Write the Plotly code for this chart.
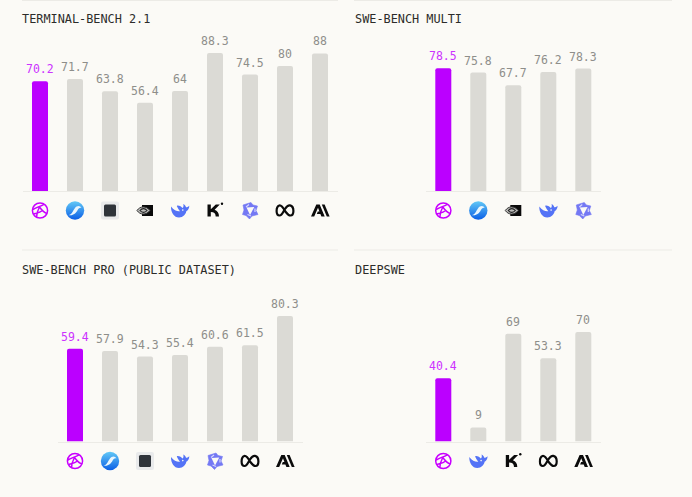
import base64
import plotly.graph_objects as go

W = 692
H = 497

# Chart data, one small list pair per panel
terminal_models = ["globe", "swirl", "square", "nvidia", "whale", "kimi", "star", "meta", "anthropic"]
terminal_values = [70.2, 71.7, 63.8, 56.4, 64, 88.3, 74.5, 80, 88]

multi_models = ["globe", "swirl", "nvidia", "whale", "star"]
multi_values = [78.5, 75.8, 67.7, 76.2, 78.3]

pro_models = ["globe", "swirl", "square", "whale", "star", "meta", "anthropic"]
pro_values = [59.4, 57.9, 54.3, 55.4, 60.6, 61.5, 80.3]

deepswe_models = ["globe", "whale", "kimi", "meta", "anthropic"]
deepswe_values = [40.4, 9, 69, 53.3, 70]

BG = "#fbfaf6"
BAR = "#dbdad5"
ACCENT = "#bb00ff"
ACCENT_LABEL = "#cc33ff"
LABEL = "#8e8e8a"
RULE = "#ecebe6"
FONT = "DejaVu Sans Mono"

# Logos as tiny inline svgs (20x20 box)
ICONS = {
    "globe": '<g fill="none" stroke="#c800ff" stroke-width="1.5"><circle cx="10" cy="10" r="7.6"/>'
             '<path d="M2.8 9 C6 7 10 6 14 3.8 M9.5 6.5 C7.5 10 6.5 13.5 6.5 17 M9.5 6.5 C12 10 14.5 12.5 17 13 M3.5 13.5 C7 12.5 10 12 12.5 10"/></g>',
    "swirl": '<defs><linearGradient id="g" x1="0" y1="0" x2="0" y2="1"><stop offset="0" stop-color="#62c8f6"/>'
             '<stop offset="1" stop-color="#0b5fe6"/></linearGradient></defs><circle cx="10" cy="10" r="9.2" fill="url(#g)"/>'
             '<path d="M3.5 14.5 C7.5 14.5 8 8.5 11.5 6 C13.5 4.8 15.5 5.5 16.5 7.5 C14.5 6.8 13.5 8 12.5 9.8 C11 12.8 7.5 15.8 3.5 14.5 Z" fill="#e9f6fe"/>',
    "square": '<rect x="1" y="1" width="18" height="18" rx="2" fill="#e9eaeb"/>'
              '<rect x="4" y="4" width="12" height="12" rx="1.5" fill="#2f343a"/>',
    "nvidia": '<rect x="7" y="4.5" width="11" height="11" fill="#0a0a0a"/>'
              '<path d="M2 10 C5 5.5 11 5 15 10 C11 15 5 14.5 2 10 Z" fill="#bdbdbb" stroke="#333" stroke-width="1"/>'
              '<path d="M5 10 C7 7.5 10 7.5 12 10 C10 12.5 7 12.5 5 10 Z" fill="none" stroke="#222" stroke-width="1.2"/>',
    "whale": '<path d="M1 6 C0.8 12 4 17 9 17 C13 17 15.8 14 16.3 10.8 C17.8 10 19.3 8 19.3 5.3 C18 6.3 17 6.8 16 6.8 '
             'C15.5 5.2 14.5 4.2 13.3 3.6 C13.8 5.8 13.4 7 12.5 7.5 C10 5 7.8 4.6 6.8 5.4 C7.2 6.2 8 8.2 10 10.8 C7.2 11.2 4 10 1 6 Z" fill="#5473f6"/>'
             '<circle cx="12.8" cy="9.6" r="0.8" fill="#fbfaf6"/>',
    "kimi": '<path d="M2.5 4 H5.8 V8.8 L10.8 4 H14.8 L9.6 9.2 C12.4 10.2 14 12.4 14 16 H10.7 C10.7 13 9 11.6 5.8 11.6 V16 H2.5 Z" fill="#0b0b0b"/>'
            '<circle cx="17" cy="3.2" r="1.2" fill="#0b0b0b"/>',
    "star": '<path d="M3 4.5 L11 2 L13 4.5 L17.5 5.5 L16 10 L18 14 L12 15.5 L9.5 18.5 L6 15 L2.5 14 L4 9.5 Z" '
            'fill="#7478f4" stroke="#7478f4" stroke-width="0.6" stroke-linejoin="round"/>'
            '<path d="M6.5 7 L14.3 6.6 L10 14.5 Z" fill="#fbfaf6"/>'
            '<path d="M9 4 L6 6.5 M15 8 L15 11.5 M7.5 14 L11 15.5" stroke="#d4d6fc" stroke-width="1.2"/>',
    "meta": '<path d="M10 10.5 C7.5 6 5.8 4.6 4.3 5 C2.4 5.6 1.6 8.3 1.6 10.5 C1.6 13.4 2.8 15 4.6 15 C7 15 8 11.5 10 8.5 '
            'C12 5.5 13.6 4.6 15 4.9 C17.4 5.4 18.4 8.2 18.4 10.5 C18.4 13.4 17.2 15 15.4 15 C13 15 12 13 10 10.5 Z" '
            'fill="none" stroke="#0b0b0b" stroke-width="2.2"/>',
    "anthropic": '<path d="M1 16 L6.3 4 H9.7 L14.7 16 H11.4 L10.4 13.5 H6.8 L7.8 11 H9.4 L8 7.2 L4.2 16 Z" fill="#0b0b0b"/>'
                 '<path d="M11.8 4 H14.6 L19.6 16 H16.8 Z" fill="#0b0b0b"/>',
}


def icon_uri(name):
    svg = f'<svg xmlns="http://www.w3.org/2000/svg" width="20" height="20" viewBox="0 0 20 20">{ICONS[name]}</svg>'
    return "data:image/svg+xml;base64," + base64.b64encode(svg.encode()).decode()


# title, models, values, left edge of the bars, baseline y, title x
panels = [
    ("TERMINAL-BENCH 2.1", terminal_models, terminal_values, 22.5, 191, 20),
    ("SWE-BENCH MULTI", multi_models, multi_values, 425.8, 191, 353),
    ("SWE-BENCH PRO (PUBLIC DATASET)", pro_models, pro_values, 57.5, 441.5, 20),
    ("DEEPSWE", deepswe_models, deepswe_values, 425.8, 441.5, 353),
]

STEP = 35
PLOT_H = 161
Y_MAX = 103

fig = go.Figure()
images = []
annotations = []

for i, (title, models, values, left, base, title_x) in enumerate(panels):
    n = i + 1
    suffix = "" if i == 0 else str(n)
    width = len(models) * STEP
    fig.add_trace(go.Bar(
        x=list(range(len(models))),
        y=values,
        width=16 / STEP,
        xaxis=f"x{suffix}",
        yaxis=f"y{suffix}",
        marker=dict(color=[ACCENT] + [BAR] * (len(models) - 1), line_width=0),
        hoverinfo="skip",
    ))
    fig.update_layout({
        f"xaxis{suffix}": dict(
            domain=[left / W, (left + width) / W],
            range=[-0.5, len(models) - 0.5],
            showgrid=False, zeroline=False, showticklabels=False, ticks="",
            showline=True, linecolor=RULE, linewidth=1, anchor=f"y{suffix}",
        ),
        f"yaxis{suffix}": dict(
            domain=[1 - base / H, 1 - (base - PLOT_H) / H],
            range=[0, Y_MAX],
            visible=False, anchor=f"x{suffix}",
        ),
    })
    for k, model in enumerate(models):
        images.append(dict(
            source=icon_uri(model),
            xref=f"x{suffix}", yref="paper",
            x=k, y=1 - (base + 19.5) / H,
            sizex=20 / STEP, sizey=20 / H,
            xanchor="center", yanchor="middle",
            sizing="contain", layer="above",
        ))
        # value labels sit a bit higher than plotly's own outside text
        annotations.append(dict(
            text=str(values[k]), xref=f"x{suffix}", yref=f"y{suffix}",
            x=k, y=values[k], yanchor="bottom", yshift=3, showarrow=False,
            font=dict(family=FONT, size=11.5, color=ACCENT_LABEL if k == 0 else LABEL),
        ))
    annotations.append(dict(
        text=title, xref="paper", yref="paper",
        x=title_x / W, y=1 - (base - 172) / H,
        xanchor="left", yanchor="middle", showarrow=False,
        font=dict(family=FONT, size=11.85, color="#2c2c2a"),
    ))

rules = []
for y0 in (0.5, 250):
    for x0, x1 in ((22, 338), (354, 672)):
        rules.append(dict(
            type="line", xref="paper", yref="paper",
            x0=x0 / W, x1=x1 / W, y0=1 - y0 / H, y1=1 - y0 / H,
            line=dict(color=RULE, width=1),
        ))

fig.update_layout(
    width=W, height=H,
    margin=dict(l=0, r=0, t=0, b=0),
    paper_bgcolor=BG, plot_bgcolor=BG,
    showlegend=False,
    barcornerradius=2,
    images=images,
    annotations=annotations,
    shapes=rules,
)

fig.write_html(
    "out.html",
    config=dict(displayModeBar=False),
    post_script=f"document.body.style.margin='0';document.body.style.background='{BG}';",
)
